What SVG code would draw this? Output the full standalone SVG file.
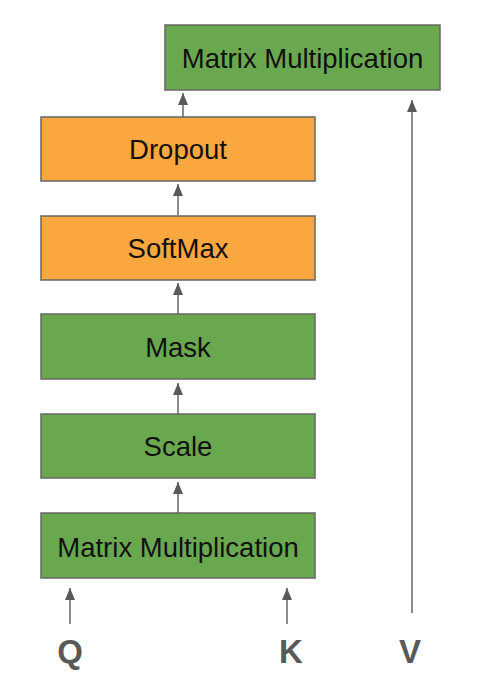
<svg xmlns="http://www.w3.org/2000/svg" width="480" height="691" viewBox="0 0 480 691">
<style>
.g{fill:#6aa84f;stroke:#666;stroke-width:1.5}
.o{fill:#f9a73e;stroke:#666;stroke-width:1.5}
.t{font-family:"Liberation Sans",Arial,sans-serif;font-size:27.5px;fill:#111;text-anchor:middle}
.l{font-family:"Liberation Sans",Arial,sans-serif;font-size:33px;font-weight:bold;fill:#595959;text-anchor:middle}
.c{stroke:#666;stroke-width:1.5;fill:none;marker-end:url(#a)}
</style>
<defs>
<marker id="a" viewBox="0 0 12 10" refX="12" refY="5" markerWidth="12" markerHeight="10" markerUnits="userSpaceOnUse" orient="auto">
<path d="M0,0 L12,5 L0,10 Z" fill="#595959"/>
</marker>
</defs>
<rect width="480" height="691" fill="#fff"/>
<g id="connectors">
<path class="c" d="M183,117 V93"/>
<path class="c" d="M178,215 V184"/>
<path class="c" d="M178,314 V283"/>
<path class="c" d="M178,414 V383"/>
<path class="c" d="M178,513 V482"/>
<path class="c" d="M70,624 V588"/>
<path class="c" d="M287,624 V588"/>
<path class="c" d="M412,613 V100"/>
</g>
<g id="matmul2"><rect class="g" x="165" y="25" width="275" height="65"/><text class="t" x="302.5" y="68">Matrix Multiplication</text></g>
<g id="dropout"><rect class="o" x="41" y="117" width="274" height="64"/><text class="t" x="178" y="159">Dropout</text></g>
<g id="softmax"><rect class="o" x="41" y="216" width="274" height="64"/><text class="t" x="178" y="258">SoftMax</text></g>
<g id="mask"><rect class="g" x="41" y="314" width="274" height="65"/><text class="t" x="178" y="357">Mask</text></g>
<g id="scale"><rect class="g" x="41" y="414" width="274" height="64"/><text class="t" x="178" y="456">Scale</text></g>
<g id="matmul1"><rect class="g" x="41" y="513" width="274" height="65"/><text class="t" x="178" y="557">Matrix Multiplication</text></g>
<g id="q"><text class="l" x="70" y="663">Q</text></g>
<g id="k"><text class="l" x="291" y="663">K</text></g>
<g id="v"><text class="l" x="410" y="663">V</text></g>
</svg>
